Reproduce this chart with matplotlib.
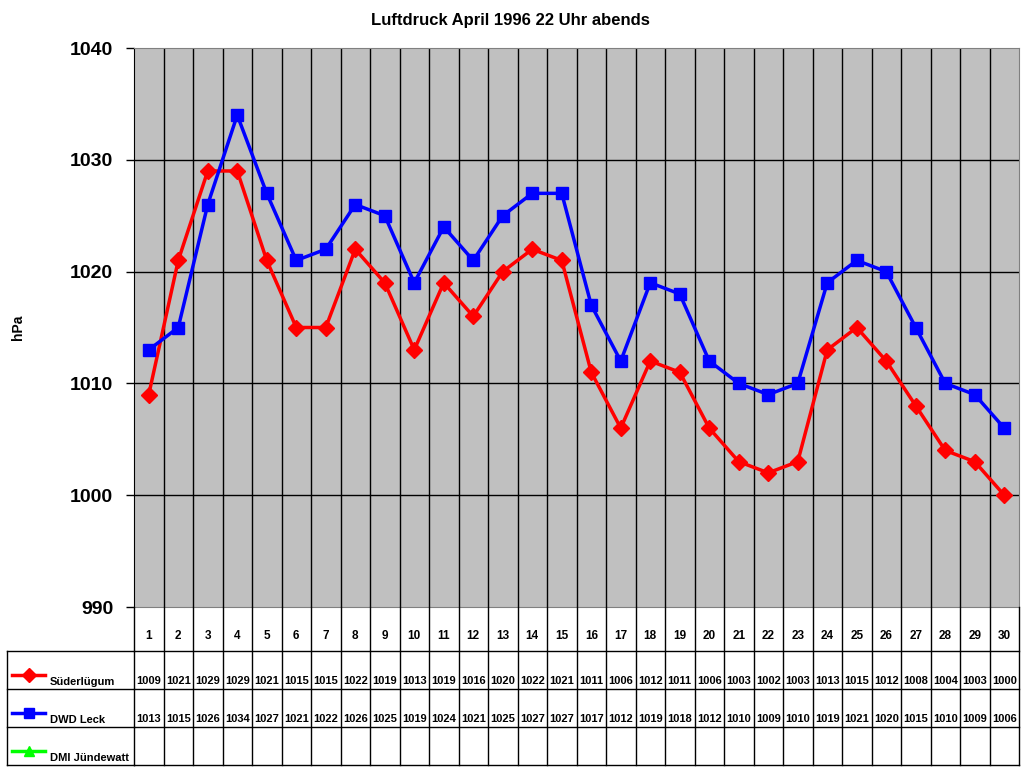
import matplotlib.pyplot as plt
import numpy as np

plt.rcParams['font.family'] = ['Liberation Sans', 'DejaVu Sans']

days = list(range(1, 31))
suederluegum = [1009, 1021, 1029, 1029, 1021, 1015, 1015, 1022, 1019, 1013,
                1019, 1016, 1020, 1022, 1021, 1011, 1006, 1012, 1011, 1006,
                1003, 1002, 1003, 1013, 1015, 1012, 1008, 1004, 1003, 1000]
dwd_leck = [1013, 1015, 1026, 1034, 1027, 1021, 1022, 1026, 1025, 1019,
            1024, 1021, 1025, 1027, 1027, 1017, 1012, 1019, 1018, 1012,
            1010, 1009, 1010, 1019, 1021, 1020, 1015, 1010, 1009, 1006]
series_names = ['Süderlügum', 'DWD Leck', 'DMI Jündewatt']
series_values = [suederluegum, dwd_leck, None]
series_colors = ['#ff0000', '#0000ff', '#00ff00']
series_markers = ['D', 's', '^']
yticks = [990, 1000, 1010, 1020, 1030, 1040]

W, H = 1024, 768
fig = plt.figure(figsize=(W / 100, H / 100), dpi=100)

def px_axes(x0, y0, x1, y1):
    # pixel box (top-left origin) -> figure axes
    return fig.add_axes([x0 / W, 1 - y1 / H, (x1 - x0) / W, (y1 - y0) / H])

# main plot
ax = px_axes(134, 48, 1019, 607)
ax.set_facecolor('#c0c0c0')
ax.set_xlim(0.5, 30.5)
ax.set_ylim(990, 1040)
for x in np.arange(1.5, 30.5, 1):
    ax.axvline(x, color='black', lw=1, zorder=1)
for y in yticks[1:-1]:
    ax.axhline(y, color='black', lw=1, zorder=1)
for vals, c, m, ms in zip(series_values[:2], series_colors, series_markers, [8, 9]):
    ax.plot(days, vals, color=c, marker=m, markersize=ms, lw=2.5, zorder=3)
ax.set_xticks([])
ax.set_yticks(yticks)
ax.set_yticklabels([str(t) for t in yticks], fontsize=14, fontweight='bold')
ax.tick_params(axis='y', length=6, width=1, pad=9)
for s in ['top', 'right', 'bottom']:
    ax.spines[s].set_color('#808080')
ax.spines['left'].set_color('black')
fig.text(18 / W, 1 - 327 / H, 'hPa', rotation=90, ha='center', va='center',
         fontsize=10, fontweight='bold')
fig.text(510 / W, 1 - 20 / H, 'Luftdruck April 1996 22 Uhr abends', ha='center',
         va='center', fontsize=12, fontweight='bold')

# data table
rows = [0, 44, 82, 120, 158]
tax = px_axes(134, 607, 1019, 765)
tax.set_xlim(0.5, 30.5)
tax.set_ylim(158, 0)
tax.axis('off')
for x in np.arange(0.5, 31, 1):
    tax.plot([x, x], [0, 158], color='black', lw=1, clip_on=False)
for r in rows[1:]:
    tax.plot([0.5, 30.5], [r, r], color='black', lw=1, clip_on=False)
for d in days:
    tax.text(d, 29, str(d), ha='center', va='center', fontsize=8.5, fontweight='bold')
for i, vals in enumerate(series_values):
    if vals is None:
        continue
    for d, v in zip(days, vals):
        tax.text(d, rows[i + 1] + 30, str(v), ha='center', va='center',
                 fontsize=8, fontweight='bold')

# legend column
lax = px_axes(7, 607, 134, 765)
lax.set_xlim(0, 127)
lax.set_ylim(158, 0)
lax.axis('off')
lax.plot([0, 0], [44, 158], color='black', lw=1, clip_on=False)
for r in rows[1:]:
    lax.plot([0, 127], [r, r], color='black', lw=1, clip_on=False)
for i, (name, c, m) in enumerate(zip(series_names, series_colors, series_markers)):
    y = rows[i + 1] + 24
    lax.plot([5, 38], [y, y], color=c, lw=2.5, clip_on=False)
    lax.plot([21.5], [y], color=c, marker=m, markersize=7, clip_on=False)
    lax.text(43, rows[i + 1] + 31, name, ha='left', va='center', fontsize=8, fontweight='bold')

fig.savefig('out.png', dpi=100)
